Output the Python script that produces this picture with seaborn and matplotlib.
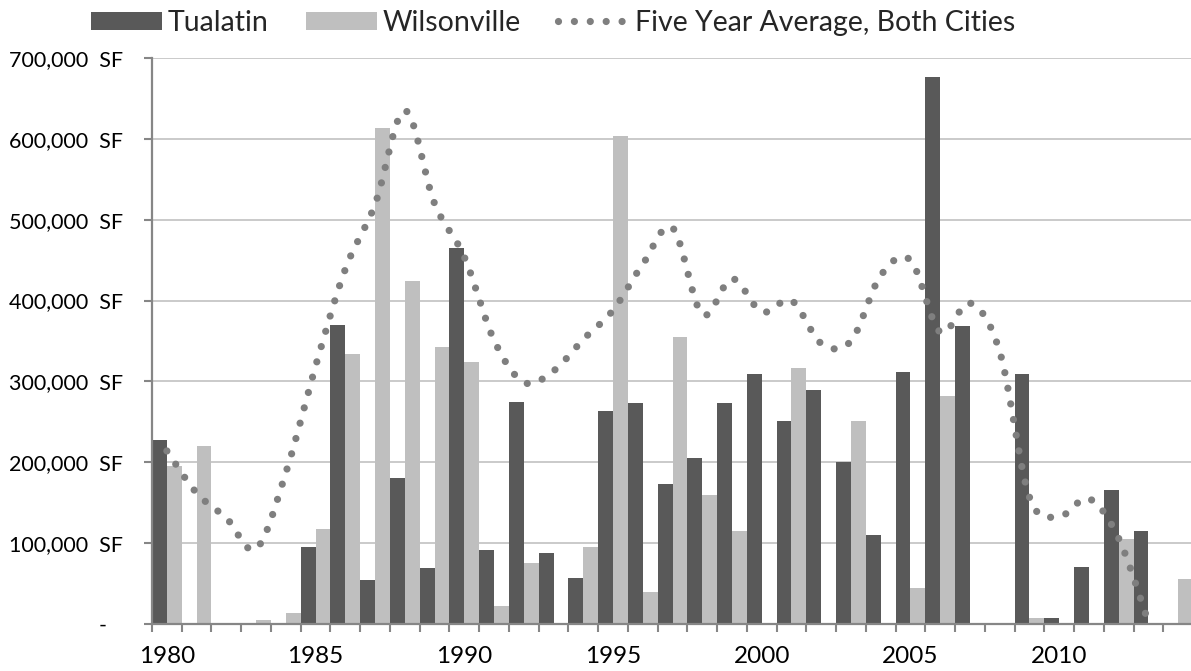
import numpy as np
import pandas as pd
import matplotlib
matplotlib.use("Agg")
import matplotlib.pyplot as plt
import seaborn as sns
from matplotlib.patches import Patch
from matplotlib.lines import Line2D
from matplotlib.transforms import ScaledTranslation

# ---- data (square feet) ----
years = list(range(1980, 2015))
tualatin = [227000, 0, 0, 0, 0, 95000, 370000, 54000, 180000, 69000,
            465000, 91000, 275000, 88000, 57000, 263000, 273000, 173000, 205000, 273000,
            309000, 251000, 290000, 200000, 110000, 312000, 676000, 368000, 0, 309000,
            8000, 71000, 166000, 115000, 0]
wilsonville = [195000, 220000, 0, 5000, 13000, 118000, 334000, 614000, 424000, 343000,
               324000, 22000, 76000, 0, 95000, 603000, 39000, 355000, 159000, 115000,
               0, 317000, 0, 251000, 0, 45000, 282000, 0, 0, 8000,
               0, 0, 105000, 0, 56000]
avg_years = list(range(1980, 2014))
five_year_avg = [214000, 162000, 131000, 93000, 187000, 319000, 439000, 519000, 635000, 520000,
                 454000, 351000, 299000, 313000, 352000, 388000, 445000, 490000, 383000, 427000,
                 386000, 400000, 347000, 350000, 431000, 450000, 361000, 397000, 337000, 157000,
                 133000, 155000, 106000, 2000]
series_names = ["Tualatin", "Wilsonville", "Five Year Average, Both Cities"]
label_years = [1980, 1985, 1990, 1995, 2000, 2005, 2010]
y_ticks = [0, 100000, 200000, 300000, 400000, 500000, 600000, 700000]

DARK = "#595959"
LIGHT = "#bfbfbf"
DOT = "#7f7f7f"
AXIS = "#868686"
GRID = "#c6c6c6"

sns.set_theme(style="white")
plt.rcParams["font.family"] = ["Lato", "DejaVu Sans"]

W, H = 1191, 671
fig = plt.figure(figsize=(W / 100, H / 100), dpi=100)
ax = fig.add_axes([152 / W, 47 / H, 1041 / W, 566 / H])

df = pd.DataFrame({
    "year": [str(y) for y in years] * 2,
    "sf": tualatin + wilsonville,
    "city": [series_names[0]] * len(years) + [series_names[1]] * len(years),
})
sns.barplot(data=df, x="year", y="sf", hue="city", order=[str(y) for y in years],
            hue_order=series_names[:2], palette=[DARK, LIGHT], width=1.0,
            linewidth=0, saturation=1, legend=False, ax=ax, zorder=2)


def catmull_rom(xs, ys, n=24):
    """Smooth curve through every point (uniform Catmull-Rom)."""
    p = np.column_stack([xs, ys]).astype(float)
    p = np.vstack([p[0], p, p[-1]])
    out = []
    for i in range(1, len(p) - 2):
        p0, p1, p2, p3 = p[i - 1], p[i], p[i + 1], p[i + 2]
        t = np.linspace(0, 1, n, endpoint=False)[:, None]
        seg = 0.5 * ((2 * p1) + (-p0 + p2) * t + (2 * p0 - 5 * p1 + 4 * p2 - p3) * t ** 2
                     + (-p0 + 3 * p1 - 3 * p2 + p3) * t ** 3)
        out.append(seg)
    out.append(p[-2][None, :])
    out = np.vstack(out)
    return out[:, 0], out[:, 1]


avg_pos = [years.index(y) for y in avg_years]
sx, sy = catmull_rom(avg_pos, five_year_avg)
dot_style = dict(color=DOT, linewidth=5.2, linestyle=(0, (0.001, 2.2)),
                 dash_capstyle="round", solid_capstyle="round")
ax.plot(sx, sy, zorder=3, **dot_style)

# ---- axes styling ----
ax.set_xlim(-0.5, len(years) - 0.5)
ax.set_ylim(0, 700000)
ax.set_xlabel("")
ax.set_ylabel("")
for s in ["top", "right"]:
    ax.spines[s].set_visible(False)
for s in ["left", "bottom"]:
    ax.spines[s].set_color(AXIS)
    ax.spines[s].set_linewidth(1.6)
    ax.spines[s].set_zorder(4)

ax.set_axisbelow(True)
ax.yaxis.grid(True, color=GRID, linewidth=1.3)
ax.xaxis.grid(False)

ax.set_yticks(y_ticks)
ax.set_yticklabels(["-"] + [f"{v:,}  SF" for v in y_ticks[1:]])
ax.tick_params(axis="y", which="major", length=6, width=1.5, color=AXIS,
               pad=15, labelsize=15.5, labelcolor="black", left=True)

# category boundary tick marks, labels every five years
ax.set_xticks([years.index(y) for y in label_years])
ax.set_xticklabels([str(y) for y in label_years])
ax.set_xticks(np.arange(len(years) + 1) - 0.5, minor=True)
ax.tick_params(axis="x", which="major", length=0, pad=16, labelsize=17.5,
               labelcolor="black")
ax.tick_params(axis="x", which="minor", length=6, width=1.5, color=AXIS,
               bottom=True)

# shift the zero label toward the axis
zero_lbl = ax.get_yticklabels()[0]
zero_lbl.set_transform(zero_lbl.get_transform() + ScaledTranslation(-0.165, 0, fig.dpi_scale_trans))

# ---- legend ----
handles = [
    Patch(facecolor=DARK, edgecolor="none"),
    Patch(facecolor=LIGHT, edgecolor="none"),
    Line2D([0], [0], **dot_style),
]
fig.legend(handles, series_names, loc="center left",
           bbox_to_anchor=(91 / W, 1 - 23 / H), ncol=3, frameon=False,
           fontsize=20.5, handlelength=2.5, handleheight=0.62, handletextpad=0.2,
           columnspacing=1.3, borderpad=0, borderaxespad=0)

fig.savefig("out.png", dpi=100)
